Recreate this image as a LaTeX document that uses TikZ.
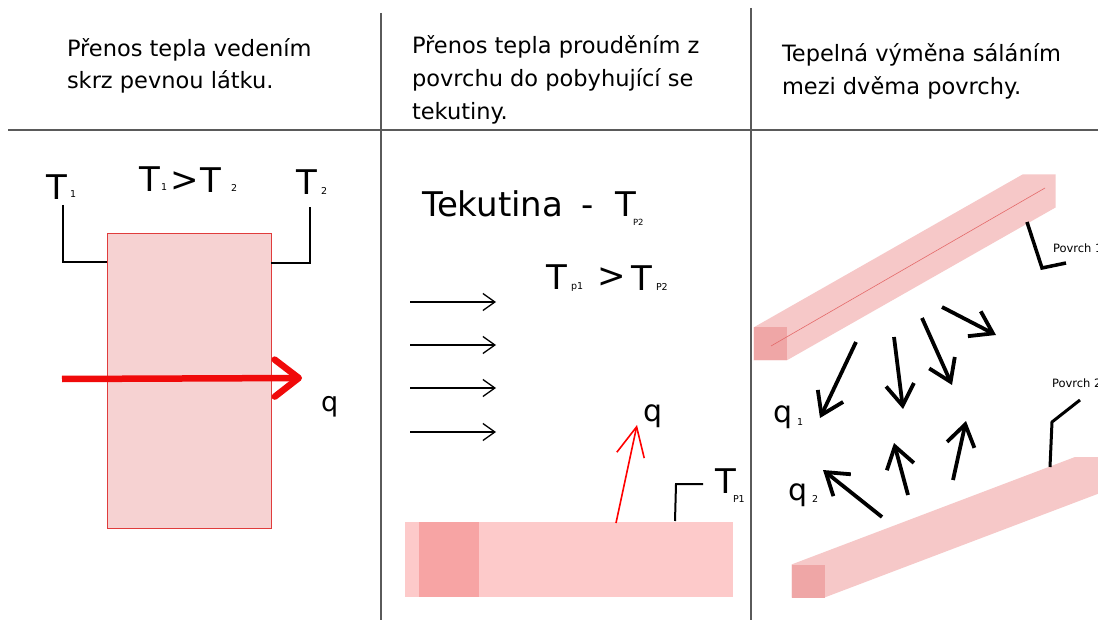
\documentclass[tikz,border=0pt]{standalone}
\usepackage{fontspec}
\setmainfont{DejaVu Sans}
\usetikzlibrary{arrows.meta}
\definecolor{divgray}{HTML}{5A5A5A}
\definecolor{slabfill}{HTML}{F6D2D2}
\definecolor{slabedge}{HTML}{E03C3C}
\definecolor{heatred}{HTML}{F00A0A}
\definecolor{barlight}{HTML}{FDCACA}
\definecolor{bardark}{HTML}{F7A4A4}
\definecolor{bandfill}{HTML}{F6C8C8}
\definecolor{banddark}{HTML}{EFA6A6}
\definecolor{bandline}{HTML}{E46A6A}
\begin{document}
\begin{tikzpicture}[x=1pt,y=-1pt,
  lbl/.style={anchor=base west,inner sep=0pt,outer sep=0pt},
  headtext/.style={lbl,font=\fontsize{22.5}{27}\selectfont},
  bigT/.style={lbl,font=\fontsize{34}{40}\selectfont},
  qtext/.style={lbl,font=\fontsize{30}{36}\selectfont},
  subs/.style={lbl,font=\fontsize{9.5}{11}\selectfont},
  surflabel/.style={lbl,font=\fontsize{11.5}{14}\selectfont},
  divider/.style={draw=divgray,line width=1.5pt},
  bracket/.style={draw=black,line width=1.3pt},
  flowarrow/.style={draw=black,line width=1.3pt,-{Straight Barb[length=12pt,width=17pt]}},
  radarrow/.style={draw=black,line width=3.8pt,-{Straight Barb[length=21pt,width=28pt]}}
]
\clip (0,0) rectangle (1098,620);
\fill[white] (0,0) rectangle (1098,620);

% dividers
\draw[divider] (381,13) -- (381,620);
\draw[divider] (751,8) -- (751,620);
\draw[divider,line width=2pt] (8,130) -- (1098,130);

% headers
\node[headtext] (h1a) at (67,57) {Přenos tepla vedením};
\node[headtext] (h1b) at (67,89) {skrz pevnou látku.};
\node[headtext] (h2a) at (412,54) {Přenos tepla prouděním z};
\node[headtext] (h2b) at (412,87) {povrchu do pobyhující se};
\node[headtext] (h2c) at (412,120) {tekutiny.};
\node[headtext] (h3a) at (782,62) {Tepelná výměna sáláním};
\node[headtext] (h3b) at (782,95) {mezi dvěma povrchy.};

% panel 1
\filldraw[fill=slabfill,draw=slabedge,line width=0.9pt] (107,233) rectangle (271,528);
\node[bigT] (t1) at (46,200) {T};
\node[subs] (t1s) at (70,198) {1};
\node[bigT] (c1) at (139,192) {T};
\node[subs] (c1s) at (161,191) {1};
\node[bigT] (cgt) at (170,192) {>};
\node[bigT] (c2) at (200,193) {T};
\node[subs] (c2s) at (231,192) {2};
\node[bigT] (t2) at (296,195) {T};
\node[subs] (t2s) at (321,195) {2};
\draw[bracket] (63,205) -- (63,262) -- (107,262);
\draw[bracket] (271,263) -- (310,263) -- (310,207);
\draw[heatred,line width=6.5pt,-{Straight Barb[length=24pt,width=37pt,round]}] (62,379) -- (302,378);
\node[lbl,font=\fontsize{27}{32}\selectfont] (q0) at (321,411) {q};

% panel 2
\node[lbl,font=\fontsize{34}{40}\selectfont] (tek) at (422,217) {Tekutina\hspace{18pt}-};
\node[lbl,font=\fontsize{34}{40}\selectfont] (tekT) at (615,217) {T};
\node[lbl,font=\fontsize{8.5}{10}\selectfont] (tekTs) at (633,226) {P2};
\node[bigT] (p1) at (546,290) {T};
\node[subs] (p1s) at (571,290) {p1};
\node[bigT] (pgt) at (597,288) {>};
\node[bigT] (p2) at (631,291) {T};
\node[subs] (p2s) at (656,291) {P2};
\foreach \yy in {302,345,388,432}
  \draw[flowarrow] (410,\yy) -- (496,\yy);
\fill[barlight] (405,522) rectangle (733,597);
\fill[bardark] (419,522) rectangle (479,597);
\draw[red,line width=1.6pt,-{Straight Barb[length=29pt,width=28pt]}] (616,523) -- (637,425);
\node[qtext] (q2p) at (643,421) {q};
\draw[bracket,line width=2pt] (675,521) -- (676,484) -- (703,484);
\node[bigT] (tp1) at (715,493) {T};
\node[subs] (tp1s) at (733,502) {P1};

% panel 3
\fill[bandfill] (753.5,360.5) -- (753.5,327.5) -- (1022.5,174.5) -- (1055.5,174.5) -- (1055.5,207.5) -- (786.5,360.5) -- cycle;
\fill[banddark] (753.5,327.5) rectangle (786.5,360.5);
\draw[bandline,line width=0.6pt] (771,346) -- (1045,188);
\fill[bandfill] (791.5,597.5) -- (791.5,564.5) -- (1075,457) -- (1108,457) -- (1108,490) -- (824.5,597.5) -- cycle;
\fill[banddark] (791.5,564.5) rectangle (824.5,597.5);

\draw[radarrow] (856,342) -- (820,418);
\draw[radarrow] (894,337) -- (903,409);
\draw[radarrow] (922,318) -- (952,385);
\draw[radarrow] (942,307) -- (996,335);
\draw[radarrow] (882,517) -- (823,470);
\draw[radarrow] (908,495) -- (894,443);
\draw[radarrow] (953,480) -- (966,421);

\node[qtext] (q1) at (773,422) {q};
\node[subs] (q1s) at (797,425) {1};
\node[qtext] (q2) at (788,500) {q};
\node[subs] (q2s) at (812,502) {2};

\draw[bracket,line width=3.5pt] (1027,222) -- (1042,268) -- (1066,263);
\node[surflabel] (s1) at (1053,253) {Povrch 1};
\draw[bracket,line width=3pt] (1050,467) -- (1052,422) -- (1080,400);
\node[surflabel] (s2) at (1052,388) {Povrch 2};
\end{tikzpicture}
\end{document}
